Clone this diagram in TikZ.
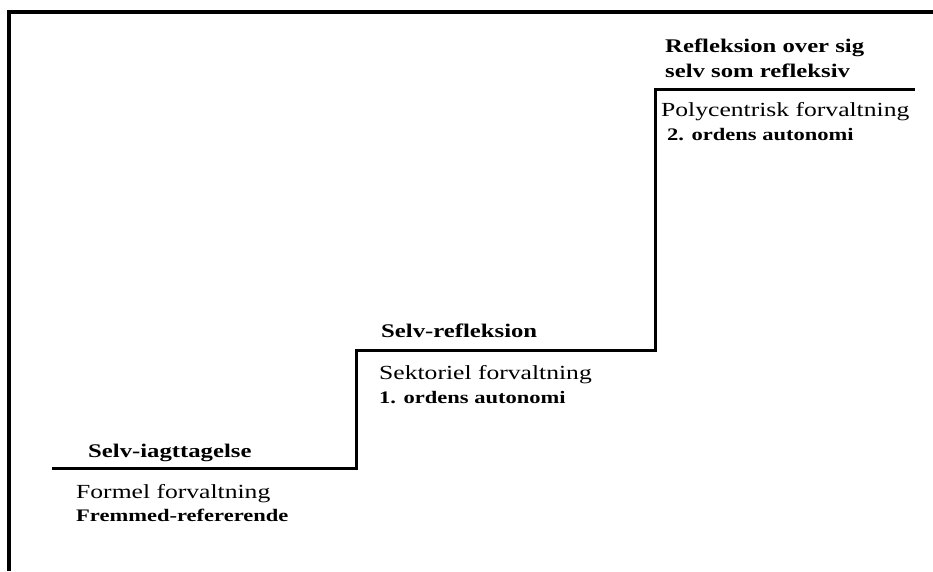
\documentclass[tikz,border=0pt]{standalone}
\usepackage{fontspec}
\setmainfont[FakeStretch=1.28]{Liberation Serif}
\begin{document}
\begin{tikzpicture}[x=1pt,y=-1pt,
  heading/.style={anchor=base west,inner sep=0pt,font=\bfseries\fontsize{19.3}{21}\selectfont},
  plain/.style={anchor=base west,inner sep=0pt,font=\fontsize{20}{22}\selectfont},
  strong/.style={anchor=base west,inner sep=0pt,font=\bfseries\fontsize{17.6}{19}\selectfont},
  frameline/.style={line width=4pt},
  stairline/.style={line width=3pt,line join=miter}]
\useasboundingbox (0,0) rectangle (933,571);
\coordinate (ftr) at (933,11.5);
\coordinate (ftl) at (8.5,11.5);
\coordinate (fbl) at (8.5,571);
\draw[frameline] (ftr) -- (ftl) -- (fbl);
\coordinate (s0) at (52,468);
\coordinate (s1) at (356,468);
\coordinate (s2) at (356,350.5);
\coordinate (s3) at (655,350.5);
\coordinate (s4) at (655,89.5);
\coordinate (s5) at (915,89.5);
\draw[stairline] (s0) -- (s1) -- (s2) -- (s3) -- (s4) -- (s5);
\node[heading] (h1) at (88,457) {Selv-iagttagelse};
\node[plain] (p1) at (76,498) {Formel forvaltning};
\node[strong] (b1) at (76,521) {Fremmed-refererende};
\node[heading] (h2) at (381,337) {Selv-refleksion};
\node[plain] (p2) at (379,379) {Sektoriel forvaltning};
\node[strong] (b2) at (379,403) {1. ordens autonomi};
\node[heading] (h3a) at (665,52) {Refleksion over sig};
\node[heading] (h3b) at (665,77) {selv som refleksiv};
\node[plain] (p3) at (661,116) {Polycentrisk forvaltning};
\node[strong] (b3) at (667,140) {2. ordens autonomi};
\end{tikzpicture}
\end{document}
